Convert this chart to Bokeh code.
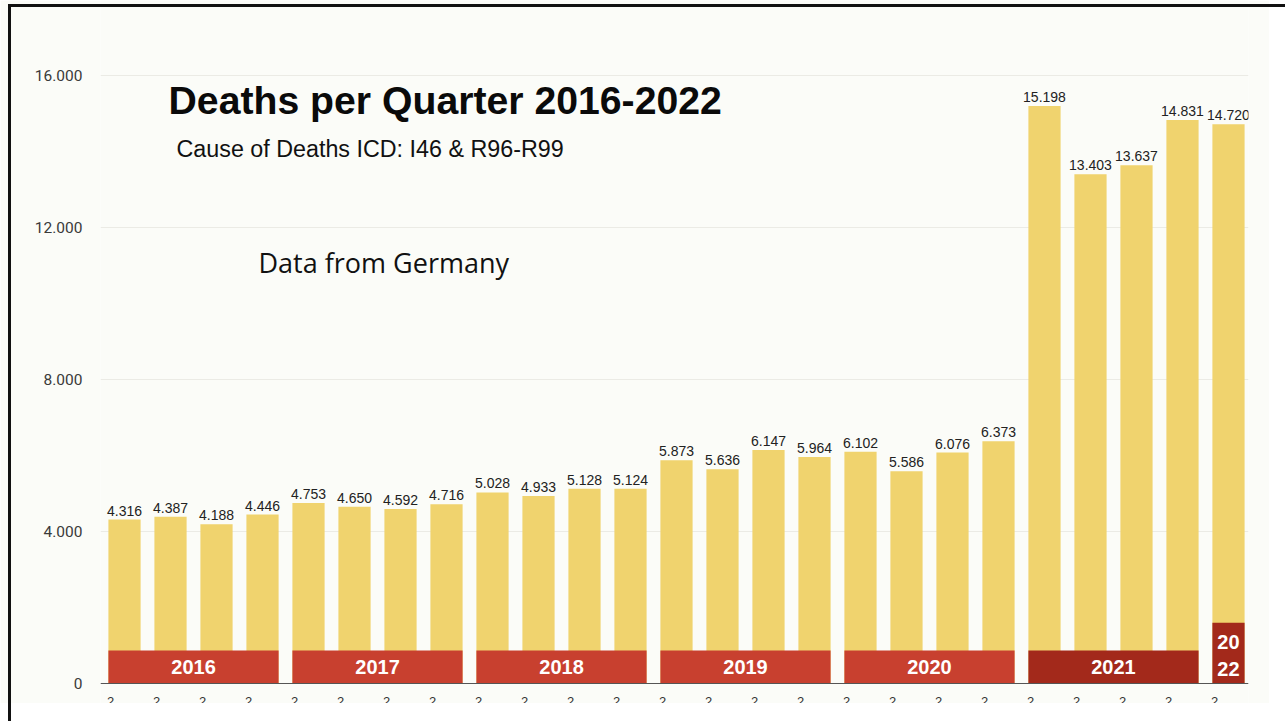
from bokeh.plotting import figure
from bokeh.models import ColumnDataSource, FixedTicker, Range1d, Span, InlineStyleSheet
from bokeh.core.properties import value
from bokeh.embed import file_html
from bokeh.resources import INLINE

# ---------------- data ----------------
quarters = ["2016 Q1", "2016 Q2", "2016 Q3", "2016 Q4",
            "2017 Q1", "2017 Q2", "2017 Q3", "2017 Q4",
            "2018 Q1", "2018 Q2", "2018 Q3", "2018 Q4",
            "2019 Q1", "2019 Q2", "2019 Q3", "2019 Q4",
            "2020 Q1", "2020 Q2", "2020 Q3", "2020 Q4",
            "2021 Q1", "2021 Q2", "2021 Q3", "2021 Q4",
            "2022 Q1"]
deaths = [4316, 4387, 4188, 4446,
          4753, 4650, 4592, 4716,
          5028, 4933, 5128, 5124,
          5873, 5636, 6147, 5964,
          6102, 5586, 6076, 6373,
          15198, 13403, 13637, 14831,
          14720]
years = ["2016", "2017", "2018", "2019", "2020", "2021"]
year_first_quarter = [0, 4, 8, 12, 16, 20]
year_last_quarter = [3, 7, 11, 15, 19, 23]
last_year = "2022"
last_year_quarter = 24
y_ticks = [0, 4000, 8000, 12000, 16000]
y_tick_labels = ["0", "4.000", "8.000", "12.000", "16.000"]

title = "Deaths per Quarter 2016-2022"
subtitle = "Cause of Deaths ICD: I46 & R96-R99"
note = "Data from Germany"

# ---------------- styling ----------------
BG = "#fbfcf8"
BAR = "#f0d36e"
BAND = "#c8402f"
BAND_DARK = "#a3291b"
BAR_W = 0.70
BAND_TOP = 870
LAST_TOP = 1600

xs = list(range(len(deaths)))
labels = [f"{v:,}".replace(",", ".") for v in deaths]
bars = ColumnDataSource(dict(x=xs, top=deaths, label=labels, q=quarters))

p = figure(width=1269, height=703, output_backend="svg", toolbar_location=None,
           x_range=Range1d(-0.522, 24.435), y_range=Range1d(-526, 17974),
           x_axis_location=None, min_border_left=100, min_border_right=21,
           min_border_top=0, min_border_bottom=0)
frame_css = (
    ":host::before{content:'';position:absolute;left:8px;top:4px;width:3px;"
    "height:717px;background:#111;z-index:100;pointer-events:none;}"
    ":host::after{content:'';position:absolute;left:8px;top:4px;height:3px;"
    "width:1277px;background:#111;z-index:100;pointer-events:none;}"
)
p.stylesheets = [InlineStyleSheet(css=frame_css)]
p.background_fill_color = BG
p.border_fill_color = BG
p.outline_line_color = None
p.xgrid.visible = False
p.ygrid.ticker = FixedTicker(ticks=y_ticks)
p.ygrid.grid_line_color = "#ebebe5"

ax = p.yaxis[0]
ax.ticker = FixedTicker(ticks=y_ticks)
ax.major_label_overrides = {t: l for t, l in zip(y_ticks, y_tick_labels)}
ax.axis_line_color = None
ax.major_tick_line_color = None
ax.minor_tick_line_color = None
ax.major_tick_out = 0
ax.major_tick_in = 0
ax.major_label_standoff = 18
ax.major_label_text_font = "Roboto"
ax.major_label_text_font_size = "15.5px"
ax.major_label_text_color = "#3a3a3a"

# bars
p.vbar(x="x", top="top", bottom=0, width=BAR_W, source=bars,
       fill_color=BAR, line_color=None)

# year bands
band_left = [f - BAR_W / 2 for f in year_first_quarter]
band_right = [l + BAR_W / 2 for l in year_last_quarter]
band_mid = [(f + l) / 2 for f, l in zip(year_first_quarter, year_last_quarter)]
band_col = [BAND] * (len(years) - 1) + [BAND_DARK]
bands = ColumnDataSource(dict(left=band_left, right=band_right, mid=band_mid,
                              year=years, color=band_col))
p.quad(left="left", right="right", bottom=0, top=BAND_TOP, source=bands,
       fill_color="color", line_color=None)
p.text(x="mid", y=BAND_TOP / 2, text="year", source=bands,
       text_font=value("Liberation Sans"), text_font_style="bold",
       text_font_size="20px", text_color="white",
       text_align="center", text_baseline="middle")

# 2022 marker
last = ColumnDataSource(dict(x=[last_year_quarter], lab=[last_year[:2] + "\n" + last_year[2:]]))
p.vbar(x="x", top=LAST_TOP, bottom=0, width=BAR_W, source=last,
       fill_color=BAND_DARK, line_color=None)
p.text(x="x", y=LAST_TOP / 2 - 60, text="lab", source=last,
       text_font=value("Liberation Sans"), text_font_style="bold",
       text_font_size="20px", text_color="white", text_align="center",
       text_baseline="middle", text_line_height=1.2)

# value labels
p.text(x="x", y="top", text="label", source=bars, y_offset=-9,
       text_font=value("Liberation Sans"), text_font_size="14px",
       text_color="#222222", text_align="center", text_baseline="middle")

# cut-off quarter tick labels at the very bottom
p.text(x="x", y=-368, text=value("2"), source=bars, x_offset=-14,
       text_font=value("Liberation Sans"), text_font_size="13px",
       text_color="#333333", text_align="center", text_baseline="top")

# baseline
p.add_layout(Span(location=0, dimension="width", line_color="#555555", line_width=1))

# titles
p.text(x=[0.957], y=[15342], text=[title], text_font=value("Liberation Sans"),
       text_font_style="bold", text_font_size="39.2px", text_color="#0a0a0a",
       text_baseline="middle")
p.text(x=[1.13], y=[14079], text=[subtitle], text_font=value("Liberation Sans"),
       text_font_size="23.3px", text_color="#111111", text_baseline="middle")
p.text(x=[2.913], y=[11079], text=[note], text_font=value("Open Sans"),
       text_font_size="27px", text_color="#111111", text_baseline="middle")

open("out.html", "w").write(file_html(p, INLINE))
